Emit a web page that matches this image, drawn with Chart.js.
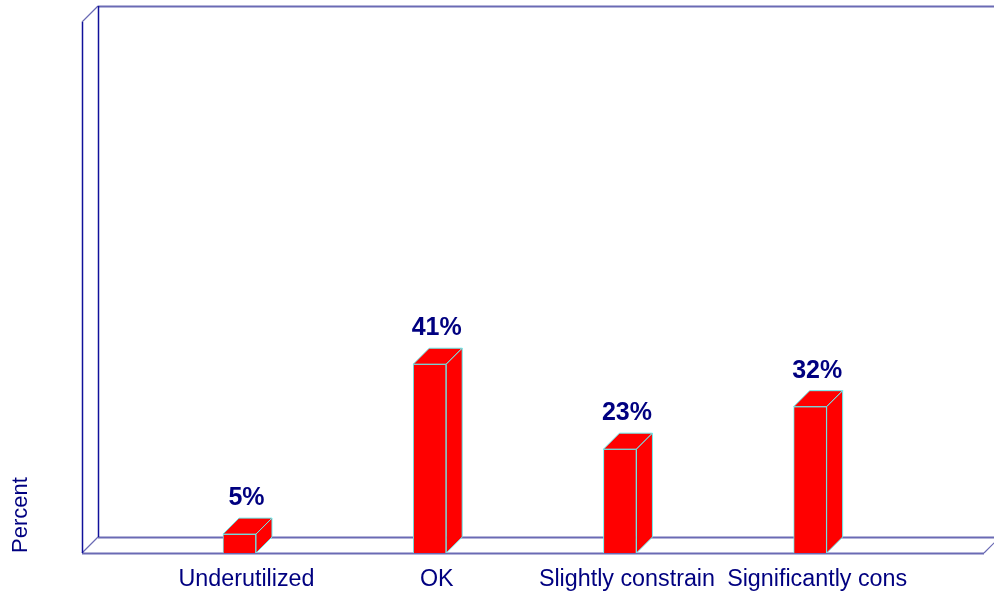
<!DOCTYPE html>
<html>
<head>
<meta charset="utf-8">
<style>
  html, body { margin: 0; padding: 0; background: #fff; overflow: hidden; }
  canvas { display: block; }
</style>
<script src="https://cdn.jsdelivr.net/npm/chart.js@4"></script>
</head>
<body>
<canvas id="chart" width="994" height="597"></canvas>
<script>
// Values as printed over the bars
const categories = ['Underutilized', 'OK', 'Slightly constrain', 'Significantly cons'];
const percentValues = [5, 41, 23, 32];
const positions = [1, 2, 3, 4];

const DEPTH = 16; // 3D offset of the box
const NAVY = '#000080';
const EDGE = '#66f0f0';

// Draws the 3D wall and floor behind the bars
const frame3d = {
  id: 'frame3d',
  beforeDatasetsDraw(chart) {
    const { ctx, chartArea: a } = chart;
    ctx.save();
    ctx.lineWidth = 1.8;
    ctx.strokeStyle = '#6a6ab4';
    ctx.beginPath();
    ctx.moveTo(a.left + DEPTH, a.top - DEPTH + 0.5);
    ctx.lineTo(a.right + DEPTH, a.top - DEPTH + 0.5);
    ctx.moveTo(a.left + DEPTH, a.bottom - DEPTH + 0.5);
    ctx.lineTo(a.right + DEPTH, a.bottom - DEPTH + 0.5);
    ctx.moveTo(a.left, a.bottom + 0.5);
    ctx.lineTo(a.right, a.bottom + 0.5);
    ctx.stroke();
    ctx.lineWidth = 1.2;
    ctx.beginPath();
    ctx.moveTo(a.left, a.top);
    ctx.lineTo(a.left + DEPTH, a.top - DEPTH);
    ctx.moveTo(a.left, a.bottom);
    ctx.lineTo(a.left + DEPTH, a.bottom - DEPTH);
    ctx.moveTo(a.right, a.bottom);
    ctx.lineTo(a.right + DEPTH, a.bottom - DEPTH);
    ctx.stroke();
    ctx.lineWidth = 1.5;
    ctx.strokeStyle = '#10109a';
    ctx.beginPath();
    ctx.moveTo(a.left + 0.5, a.top);
    ctx.lineTo(a.left + 0.5, a.bottom);
    ctx.moveTo(a.left + DEPTH + 0.5, a.top - DEPTH);
    ctx.lineTo(a.left + DEPTH + 0.5, a.bottom - DEPTH);
    ctx.stroke();
    ctx.restore();
  }
};

// Top and side faces of each bar plus the percent labels
const bars3d = {
  id: 'bars3d',
  afterDatasetsDraw(chart) {
    const { ctx } = chart;
    ctx.save();
    chart.getDatasetMeta(0).data.forEach((bar, i) => {
      const l = bar.x - bar.width / 2;
      const r = bar.x + bar.width / 2;
      ctx.fillStyle = '#ff0000';
      ctx.strokeStyle = EDGE;
      ctx.lineWidth = 1;
      ctx.beginPath();
      ctx.moveTo(l, bar.y);
      ctx.lineTo(l + DEPTH, bar.y - DEPTH);
      ctx.lineTo(r + DEPTH, bar.y - DEPTH);
      ctx.lineTo(r, bar.y);
      ctx.closePath();
      ctx.fill();
      ctx.stroke();
      ctx.beginPath();
      ctx.moveTo(r, bar.y);
      ctx.lineTo(r + DEPTH, bar.y - DEPTH);
      ctx.lineTo(r + DEPTH, bar.base - DEPTH);
      ctx.lineTo(r, bar.base);
      ctx.closePath();
      ctx.fill();
      ctx.stroke();

      ctx.fillStyle = NAVY;
      ctx.font = 'bold 25px "Liberation Sans"';
      ctx.textAlign = 'center';
      ctx.textBaseline = 'middle';
      ctx.fillText(percentValues[i] + '%', bar.x + 7, bar.y - 36);
    });
    ctx.restore();
  }
};

new Chart(document.getElementById('chart').getContext('2d'), {
  type: 'bar',
  data: {
    datasets: [{
      data: positions.map((p, i) => ({ x: p, y: percentValues[i] })),
      base: 1,
      backgroundColor: '#ff0000',
      borderColor: EDGE,
      borderWidth: 1,
      barThickness: 33
    }]
  },
  options: {
    responsive: false,
    animation: false,
    layout: { padding: { top: 22, right: 10 } },
    plugins: { legend: { display: false }, tooltip: { enabled: false } },
    scales: {
      x: {
        type: 'linear',
        offset: false,
        min: 0.172,
        max: 4.914,
        grid: { display: false },
        border: { display: false },
        afterBuildTicks(axis) {
          axis.ticks = positions.map(p => ({ value: p }));
        },
        afterFit(axis) { axis.height = 44; },
        ticks: {
          autoSkip: false,
          maxRotation: 0,
          padding: 5,
          labelOffset: 7,
          color: NAVY,
          font: { family: 'Liberation Sans', size: 23.3 },
          callback: value => categories[positions.indexOf(value)]
        }
      },
      y: {
        min: 1,
        max: 113.5,
        grid: { display: false },
        border: { display: false },
        ticks: { display: false },
        afterFit(axis) { axis.width = 82; },
        title: {
          display: true,
          text: 'Percent',
          align: 'start',
          color: NAVY,
          padding: { top: 8, bottom: 0 },
          font: { family: 'Liberation Sans', size: 22 }
        }
      }
    }
  },
  plugins: [frame3d, bars3d]
});
</script>
</body>
</html>
